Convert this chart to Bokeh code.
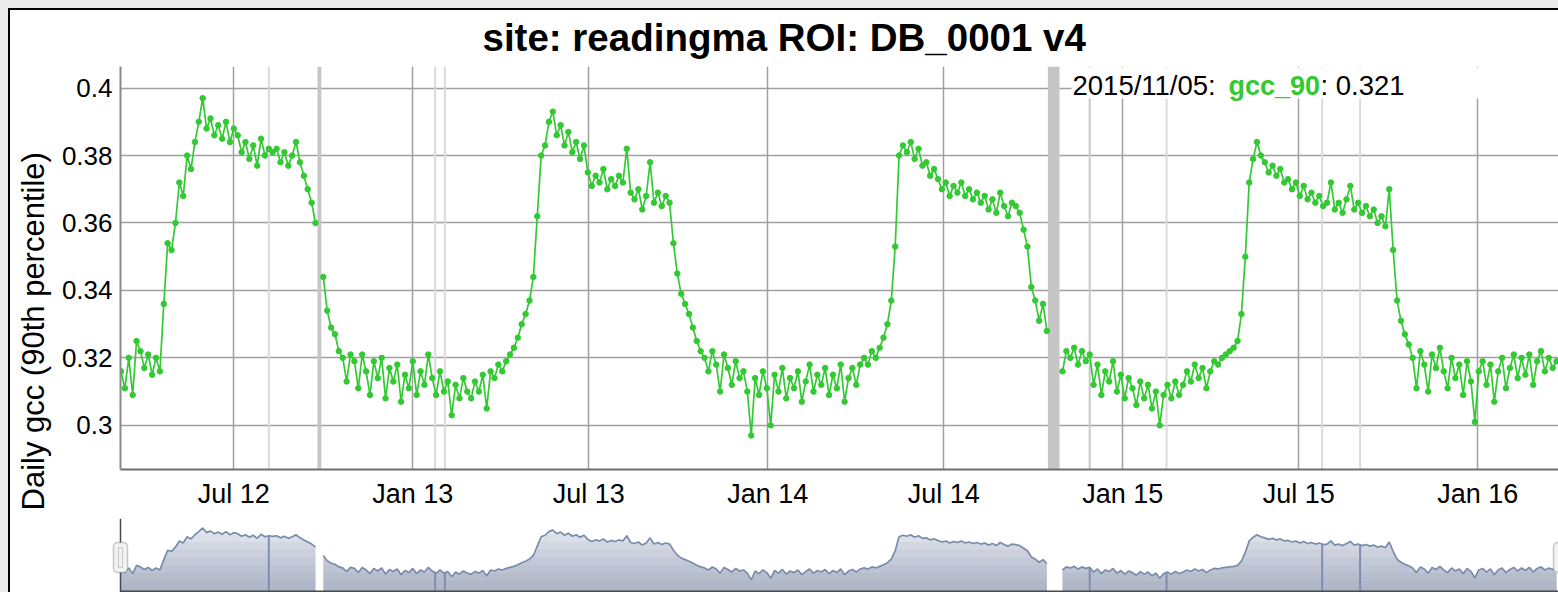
import numpy as np
import pandas as pd
from bokeh.plotting import figure
from bokeh.layouts import column
from bokeh.models import ColumnDataSource, FixedTicker, BoxAnnotation, Label, Span, Range1d, Title
from bokeh.embed import file_html
from bokeh.resources import INLINE

# ---------------- data ----------------
title_text = "site: readingma ROI: DB_0001 v4"
y_label = "Daily gcc (90th percentile)"
series_name = "gcc_90"
legend_date = "2015/11/05"
legend_value = "0.321"

start_date = "2012-03-07"
step_days = 4
gcc_90 = [
    0.316, 0.311, 0.320, 0.309, 0.325, 0.322, 0.317, 0.321, 0.315, 0.320,
    0.316, 0.336, 0.354, 0.352, 0.360, 0.372, 0.368, 0.380, 0.376, 0.384,
    0.390, 0.397, 0.388, 0.391, 0.386, 0.389, 0.385, 0.390, 0.384, 0.388,
    0.386, 0.381, 0.384, 0.379, 0.383, 0.377, 0.385, 0.380, 0.382, 0.381,
    0.382, 0.378, 0.381, 0.377, 0.380, 0.384, 0.378, 0.374, 0.370, 0.366,
    0.360, None, 0.344, 0.334, 0.329, 0.327, 0.322, 0.320, 0.313, 0.321,
    0.319, 0.311, 0.321, 0.316, 0.309, 0.319, 0.314, 0.320, 0.308, 0.317,
    0.313, 0.318, 0.307, 0.315, 0.311, 0.319, 0.309, 0.316, 0.312, 0.321,
    0.314, 0.309, 0.316, 0.310, 0.313, 0.303, 0.312, 0.308, 0.314, 0.310,
    0.308, 0.313, 0.310, 0.315, 0.305, 0.316, 0.314, 0.318, 0.316, 0.319,
    0.321, 0.323, 0.326, 0.330, 0.333, 0.337, 0.344, 0.362, 0.380, 0.383,
    0.390, 0.393, 0.386, 0.389, 0.383, 0.387, 0.381, 0.384, 0.379, 0.383,
    0.375, 0.371, 0.374, 0.372, 0.376, 0.370, 0.373, 0.371, 0.374, 0.372,
    0.382, 0.369, 0.367, 0.370, 0.364, 0.368, 0.378, 0.366, 0.369, 0.365,
    0.368, 0.366, 0.354, 0.345, 0.339, 0.336, 0.333, 0.329, 0.325, 0.322,
    0.320, 0.316, 0.322, 0.318, 0.310, 0.321, 0.317, 0.312, 0.319, 0.314,
    0.316, 0.310, 0.297, 0.314, 0.309, 0.316, 0.311, 0.300, 0.315, 0.310,
    0.317, 0.308, 0.314, 0.311, 0.316, 0.307, 0.313, 0.318, 0.310, 0.315,
    0.312, 0.317, 0.309, 0.315, 0.311, 0.318, 0.307, 0.314, 0.317, 0.312,
    0.318, 0.320, 0.318, 0.322, 0.320, 0.323, 0.326, 0.330, 0.337, 0.353,
    0.380, 0.383, 0.381, 0.384, 0.379, 0.382, 0.377, 0.378, 0.374, 0.376,
    0.373, 0.370, 0.372, 0.368, 0.371, 0.369, 0.372, 0.368, 0.370, 0.367,
    0.369, 0.366, 0.368, 0.364, 0.367, 0.363, 0.369, 0.365, 0.362, 0.366,
    0.365, 0.363, 0.358, 0.353, 0.341, 0.337, 0.331, 0.336, 0.328, None,
    None, None, 0.316, 0.322, 0.320, 0.323, 0.318, 0.322, 0.319, 0.321,
    0.312, 0.318, 0.309, 0.316, 0.313, 0.319, 0.310, 0.315, 0.308, 0.314,
    0.311, 0.306, 0.313, 0.308, 0.312, 0.305, 0.310, 0.300, 0.309, 0.312,
    0.308, 0.313, 0.309, 0.312, 0.316, 0.313, 0.318, 0.314, 0.317, 0.311,
    0.316, 0.319, 0.318, 0.320, 0.321, 0.322, 0.323, 0.325, 0.333, 0.350,
    0.372, 0.379, 0.384, 0.380, 0.378, 0.375, 0.377, 0.374, 0.376, 0.372,
    0.373, 0.370, 0.372, 0.368, 0.371, 0.367, 0.369, 0.366, 0.368, 0.365,
    0.366, 0.372, 0.364, 0.366, 0.363, 0.367, 0.371, 0.364, 0.366, 0.363,
    0.365, 0.362, 0.364, 0.360, 0.362, 0.359, 0.370, 0.352, 0.337, 0.331,
    0.327, 0.324, 0.320, 0.311, 0.322, 0.318, 0.310, 0.321, 0.317, 0.323,
    0.316, 0.311, 0.320, 0.314, 0.318, 0.309, 0.319, 0.313, 0.301, 0.316,
    0.319, 0.312, 0.318, 0.307, 0.316, 0.320, 0.311, 0.317, 0.321, 0.314,
    0.320, 0.315, 0.321, 0.312, 0.319, 0.322, 0.316, 0.320, 0.317, 0.319,
]

x_tick_dates = ["2012-07-01", "2013-01-01", "2013-07-01", "2014-01-01",
                "2014-07-01", "2015-01-01", "2015-07-01", "2016-01-01"]
x_tick_labels = ["Jul 12", "Jan 13", "Jul 13", "Jan 14",
                 "Jul 14", "Jan 15", "Jul 15", "Jan 16"]
y_ticks = [0.30, 0.32, 0.34, 0.36, 0.38, 0.40]
y_tick_labels = ["0.3", "0.32", "0.34", "0.36", "0.38", "0.4"]

# flagged periods (shaded in main chart)
flag_start = ["2012-08-05", "2012-09-25", "2013-01-23", "2013-02-02", "2014-10-16",
              "2014-11-27", "2015-02-14", "2015-07-24", "2015-09-01"]
flag_end = ["2012-08-07", "2012-09-29", "2013-01-25", "2013-02-04", "2014-10-28",
            "2014-11-29", "2015-02-16", "2015-07-26", "2015-09-03"]
flag_kind = ["light", "band", "light", "light", "band", "mid", "light", "light", "light"]

# dips shown in the range selector
dip_dates = ["2012-08-06", "2013-01-24", "2013-02-03", "2014-11-28",
             "2015-02-15", "2015-07-25", "2015-09-02"]
dip_values = [0.381, 0.313, 0.310, 0.320, 0.310, 0.367, 0.366]

view_start = "2012-03-06 12:00"
view_end = "2016-03-24 00:00"
main_y = (0.2869, 0.4064)
mini_y = (0.2726, 0.4153)

# ---------------- styles ----------------
GREEN = "#33c933"
FONT = "Liberation Sans"
flag_colors = {"light": "#dadada", "mid": "#c6c6c6", "band": "#c6c6c6"}
FIG_W = 1548
BORDER_L = 110
FRAME_W = FIG_W - BORDER_L
PAD = 14  # px the range selector frame extends left of the main frame


def ms(s):
    return int(pd.Timestamp(s).value // 10**6)


dates = pd.Timestamp(start_date) + pd.to_timedelta(np.arange(len(gcc_90)) * step_days, unit="D")
vals = np.array([np.nan if v is None else v for v in gcc_90], dtype=float)
src = ColumnDataSource(dict(date=dates, gcc=vals))

x0, x1 = ms(view_start), ms(view_end)
x_range = Range1d(x0, x1)

p = figure(width=FIG_W, height=501, x_axis_type="datetime", x_range=x_range,
           y_range=Range1d(*main_y), output_backend="svg", toolbar_location=None,
           min_border_left=BORDER_L, min_border_right=0, min_border_top=55, min_border_bottom=42,
           outline_line_color=None)
p.frame_align = False

p.title.text = title_text
p.title.text_font = FONT
p.title.text_font_size = "38.5px"
p.title.text_font_style = "bold"
p.title.text_color = "black"
p.title.align = "left"
p.title.offset = 362
p.title.standoff = 11
p.title.vertical_align = "top"

xt = [ms(d) for d in x_tick_dates]
p.xaxis.ticker = FixedTicker(ticks=xt)
p.xaxis.major_label_overrides = {t: l for t, l in zip(xt, x_tick_labels)}
p.yaxis.ticker = FixedTicker(ticks=y_ticks)
p.yaxis.major_label_overrides = {t: l for t, l in zip(y_ticks, y_tick_labels)}

for ax in (p.xaxis, p.yaxis):
    ax.major_tick_line_color = None
    ax.minor_tick_line_color = None
    ax.major_tick_out = 0
    ax.major_tick_in = 0
    ax.major_label_text_font = FONT
    ax.major_label_text_color = "black"
    ax.axis_line_width = 2

p.xaxis.axis_line_color = "#6e6e6e"
p.xaxis.major_label_text_font_size = "27px"
p.xaxis.major_label_standoff = 9
p.yaxis.axis_line_color = "#8a8a8a"
p.yaxis.major_label_text_font_size = "26px"
p.yaxis.major_label_standoff = 8

# y axis title as a left-side title so it can sit lower, as in the original
p.add_layout(Title(text=y_label, align="left", offset=-41, vertical_align="top", standoff=11,
                   text_font=FONT, text_font_size="31px", text_font_style="normal",
                   text_color="black"), "left")

p.xgrid.grid_line_color = "#a0a0a0"
p.ygrid.grid_line_color = "#a0a0a0"
p.xgrid.grid_line_width = 1.5
p.ygrid.grid_line_width = 1.5

for s, e, k in zip(flag_start, flag_end, flag_kind):
    p.add_layout(BoxAnnotation(left=ms(s), right=ms(e), fill_color=flag_colors[k],
                               fill_alpha=1.0, line_alpha=0, level="underlay"))

p.line("date", "gcc", source=src, color=GREEN, line_width=1.7)
p.scatter("date", "gcc", source=src, size=5.5, color=GREEN)

# legend (value readout)
p.add_layout(BoxAnnotation(left=951, right=1460, left_units="screen", right_units="screen",
                           bottom=371, top=402, bottom_units="screen", top_units="screen",
                           fill_color="white", fill_alpha=1.0, line_alpha=0))
p.add_layout(Label(x=952, y=384, x_units="screen", y_units="screen", text=legend_date + ": ",
                   text_baseline="middle", text_font=FONT, text_font_size="27.5px", text_color="black"))
p.add_layout(Label(x=1108, y=384, x_units="screen", y_units="screen", text=series_name,
                   text_baseline="middle", text_font=FONT, text_font_size="27px",
                   text_font_style="bold", text_color=GREEN))
p.add_layout(Label(x=1200, y=384, x_units="screen", y_units="screen", text=": " + legend_value,
                   text_baseline="middle", text_font=FONT, text_font_size="27.5px", text_color="black"))

# ---------------- range selector ----------------
ms_per_px = (x1 - x0) / FRAME_W
p2 = figure(width=FIG_W, height=81, x_range=Range1d(x0 - PAD * ms_per_px, x1),
            y_range=Range1d(*mini_y),
            output_backend="svg", toolbar_location=None, x_axis_location=None,
            y_axis_location=None, outline_line_color=None,
            min_border_left=BORDER_L - PAD, min_border_right=0, min_border_top=7, min_border_bottom=0)
p2.frame_align = False
p2.grid.visible = False

ok_idx = np.flatnonzero(~np.isnan(vals))
runs = np.split(ok_idx, np.where(np.diff(ok_idx) > 1)[0] + 1)
levels = [0.385, 0.37, 0.355, 0.34, 0.325, 0.31, 0.295, 0.28]
for r in runs:
    d = dates[r]
    v = vals[r]
    p2.varea(x=d, y1=mini_y[0], y2=v, fill_color="#e4e7ee", fill_alpha=1.0)
    for L in levels:
        p2.varea(x=d, y1=mini_y[0], y2=np.minimum(v, L), fill_color="#56688c", fill_alpha=0.06)
    p2.line(x=d, y=v, color="#7a8cab", line_width=1.7)

dd = pd.to_datetime(dip_dates)
p2.segment(x0=dd, y0=[mini_y[0]] * len(dd), x1=dd, y1=dip_values, color="#7d8fb0", line_width=2)

p2.add_layout(Span(location=PAD, location_units="screen", dimension="height",
                   line_color="#4a4a4a", line_width=1.5))
p2.add_layout(BoxAnnotation(left=PAD, right=PAD + FRAME_W + 10, left_units="screen", right_units="screen",
                            bottom=0, top=2, bottom_units="screen", top_units="screen",
                            fill_color="#4a4a4a", fill_alpha=1.0, line_alpha=0))
for cx in (PAD, PAD + FRAME_W + 2):
    p2.add_layout(BoxAnnotation(left=cx - 7, right=cx + 7, left_units="screen", right_units="screen",
                                bottom=20, top=50, bottom_units="screen", top_units="screen",
                                fill_color="#f2f2f2", fill_alpha=1.0, line_color="#555555",
                                line_width=1.5, border_radius=4))
    p2.add_layout(BoxAnnotation(left=cx - 2, right=cx + 2, left_units="screen", right_units="screen",
                                bottom=25, top=45, bottom_units="screen", top_units="screen",
                                fill_alpha=0, line_color="#666666", line_width=1))

layout = column(p, p2, styles={"margin-left": "8px", "margin-top": "8px",
                               "border-left": "2px solid black", "border-top": "2px solid black",
                               "box-shadow": "-8px -8px 0 8px #ebebeb"})

open("out.html", "w").write(file_html(layout, INLINE))
